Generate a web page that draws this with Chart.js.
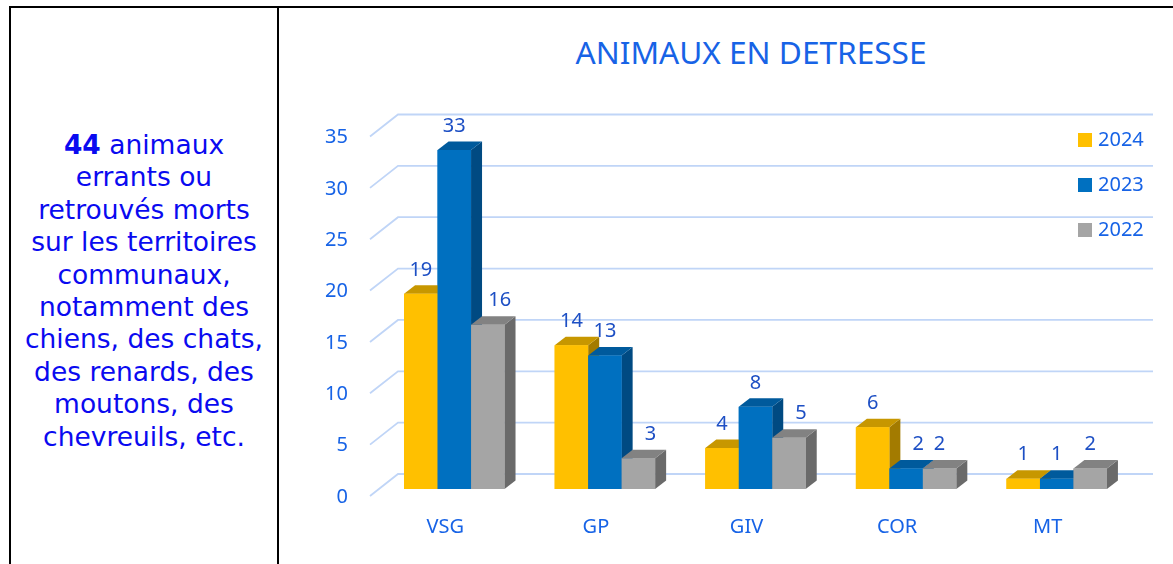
<!DOCTYPE html>
<html lang="fr">
<head>
<meta charset="utf-8">
<title>Animaux en détresse</title>
<script src="https://cdn.jsdelivr.net/npm/chart.js@4.4.1/dist/chart.umd.min.js"></script>
<style>
    html, body { margin: 0; padding: 0; background: #fff; overflow: hidden; }
    body { width: 1173px; height: 564px; position: relative; }
    .line { position: absolute; background: #000; z-index: 3; }
    #note {
        position: absolute; left: 11px; width: 266px; top: 129px;
        font-family: "DejaVu Sans", sans-serif; font-size: 26.5px; line-height: 32.4px;
        color: #0a0af0; text-align: center;
    }
    #title {
        position: absolute; left: 751px; top: 35.5px; transform: translateX(-50%);
        font-family: "Noto Sans", sans-serif; font-size: 31.6px; line-height: 1;
        color: #1763e6; white-space: nowrap;
    }
    #wrap { position: absolute; left: 280px; top: 0; width: 893px; height: 564px; }
</style>
</head>
<body>
<div class="line" style="left:9px;top:6px;width:1164px;height:2px"></div>
<div class="line" style="left:9px;top:6px;width:2px;height:558px"></div>
<div class="line" style="left:277px;top:6px;width:2px;height:558px"></div>

<div id="note"><b>44</b> animaux<br>errants ou<br>retrouvés morts<br>sur les territoires<br>communaux,<br>notamment des<br>chiens, des chats,<br>des renards, des<br>moutons, des<br>chevreuils, etc.</div>
<div id="title">ANIMAUX EN DETRESSE</div>
<div id="wrap"><canvas id="animaux"></canvas></div>

<script>
const categories = ["VSG", "GP", "GIV", "COR", "MT"];
const years = ["2024", "2023", "2022"];
const v2024 = [19, 14, 4, 6, 1];
const v2023 = [33, 13, 8, 2, 1];
const v2022 = [16, 3, 5, 2, 2];

const fronts = ["#ffc000", "#0070c0", "#a5a5a5"];
const tops = ["#c79700", "#005a9c", "#828282"];
const sides = ["#a37b00", "#004a82", "#6a6a6a"];

const textBlue = "#1763e6";
const labelBlue = "#1d4fc4";
const chartFont = "Noto Sans";
const fontSize = 20;

// depth of the bars and position of the walls relative to the bars' front plane
const DX = 11, DY = 8.5;
const WALL_DX = 19, WALL_DY = 15;
const FRONT_DX = 9, FRONT_DY = 7;

const threeD = {
    id: "threeD",
    beforeDatasetsDraw(chart) {
        const ctx = chart.ctx;
        const area = chart.chartArea;
        const y = chart.scales.y;
        ctx.save();
        ctx.strokeStyle = "#c0d5f7";
        ctx.lineWidth = 1.8;
        y.ticks.forEach(t => {
            const p = y.getPixelForValue(t.value);
            ctx.beginPath();
            ctx.moveTo(area.left - FRONT_DX, p + FRONT_DY);
            ctx.lineTo(area.left + WALL_DX, p - WALL_DY);
            ctx.lineTo(area.right + 21, p - WALL_DY);
            ctx.stroke();
        });
        ctx.restore();
    },
    afterDatasetsDraw(chart) {
        const ctx = chart.ctx;
        const sets = chart.data.datasets;
        ctx.save();
        for (let i = 0; i < categories.length; i++) {
            sets.forEach((ds, d) => {
                const bar = chart.getDatasetMeta(d).data[i];
                const l = bar.x - bar.width / 2, r = bar.x + bar.width / 2;
                // side
                ctx.fillStyle = sides[d];
                ctx.beginPath();
                ctx.moveTo(r, bar.y);
                ctx.lineTo(r + DX, bar.y - DY);
                ctx.lineTo(r + DX, bar.base - DY);
                ctx.lineTo(r, bar.base);
                ctx.closePath();
                ctx.fill();
                // top
                ctx.fillStyle = tops[d];
                ctx.beginPath();
                ctx.moveTo(l, bar.y);
                ctx.lineTo(l + DX, bar.y - DY);
                ctx.lineTo(r + DX, bar.y - DY);
                ctx.lineTo(r, bar.y);
                ctx.closePath();
                ctx.fill();
                bar.draw(ctx);
            });
        }
        // value labels, nudged right when the bar on the left is in the way
        ctx.fillStyle = labelBlue;
        ctx.font = fontSize + "px '" + chartFont + "'";
        ctx.textAlign = "center";
        ctx.textBaseline = "middle";
        sets.forEach((ds, d) => {
            chart.getDatasetMeta(d).data.forEach((bar, i) => {
                const ly = bar.y - 24;
                let lx = bar.x;
                if (d > 0) {
                    const prev = chart.getDatasetMeta(d - 1).data[i];
                    if (prev.y - DY < ly + 4) lx += 12;
                }
                ctx.fillText(String(ds.data[i]), lx, ly);
            });
        });
        ctx.restore();
    },
    afterDraw(chart) {
        const ctx = chart.ctx;
        const area = chart.chartArea;
        ctx.save();
        ctx.font = fontSize + "px '" + chartFont + "'";
        ctx.textAlign = "left";
        ctx.textBaseline = "middle";
        chart.data.datasets.forEach((ds, d) => {
            const cy = area.top + 10.5 + d * 45;
            const x = area.right - 54;
            ctx.fillStyle = fronts[d];
            ctx.fillRect(x, cy - 7, 14, 14);
            ctx.fillStyle = textBlue;
            ctx.fillText(ds.label, x + 20, cy);
        });
        ctx.restore();
    }
};

const data = {
    labels: categories,
    datasets: [
        { label: years[0], data: v2024, backgroundColor: fronts[0] },
        { label: years[1], data: v2023, backgroundColor: fronts[1] },
        { label: years[2], data: v2022, backgroundColor: fronts[2] }
    ]
};

const chart = new Chart(document.getElementById("animaux"), {
    type: "bar",
    data: data,
    plugins: [threeD],
    options: {
        responsive: true,
        maintainAspectRatio: false,
        animation: false,
        layout: { padding: { left: 0, top: 129.5, right: 41, bottom: 0 } },
        datasets: { bar: { categoryPercentage: 0.667, barPercentage: 1 } },
        plugins: {
            legend: { display: false },
            title: { display: false },
            tooltip: { enabled: false }
        },
        scales: {
            x: {
                grid: { display: false, drawTicks: false },
                border: { display: false },
                ticks: {
                    color: textBlue, padding: 26, labelOffset: -9,
                    font: { family: chartFont, size: fontSize }
                },
                afterFit: s => { s.height = 75; }
            },
            y: {
                min: 0, max: 35,
                grid: { display: false, drawTicks: false },
                border: { display: false },
                ticks: {
                    stepSize: 5, color: textBlue, padding: 31, labelOffset: 8,
                    font: { family: chartFont, size: fontSize }
                },
                afterFit: s => { s.width = 99; }
            }
        }
    }
});
</script>
</body>
</html>
